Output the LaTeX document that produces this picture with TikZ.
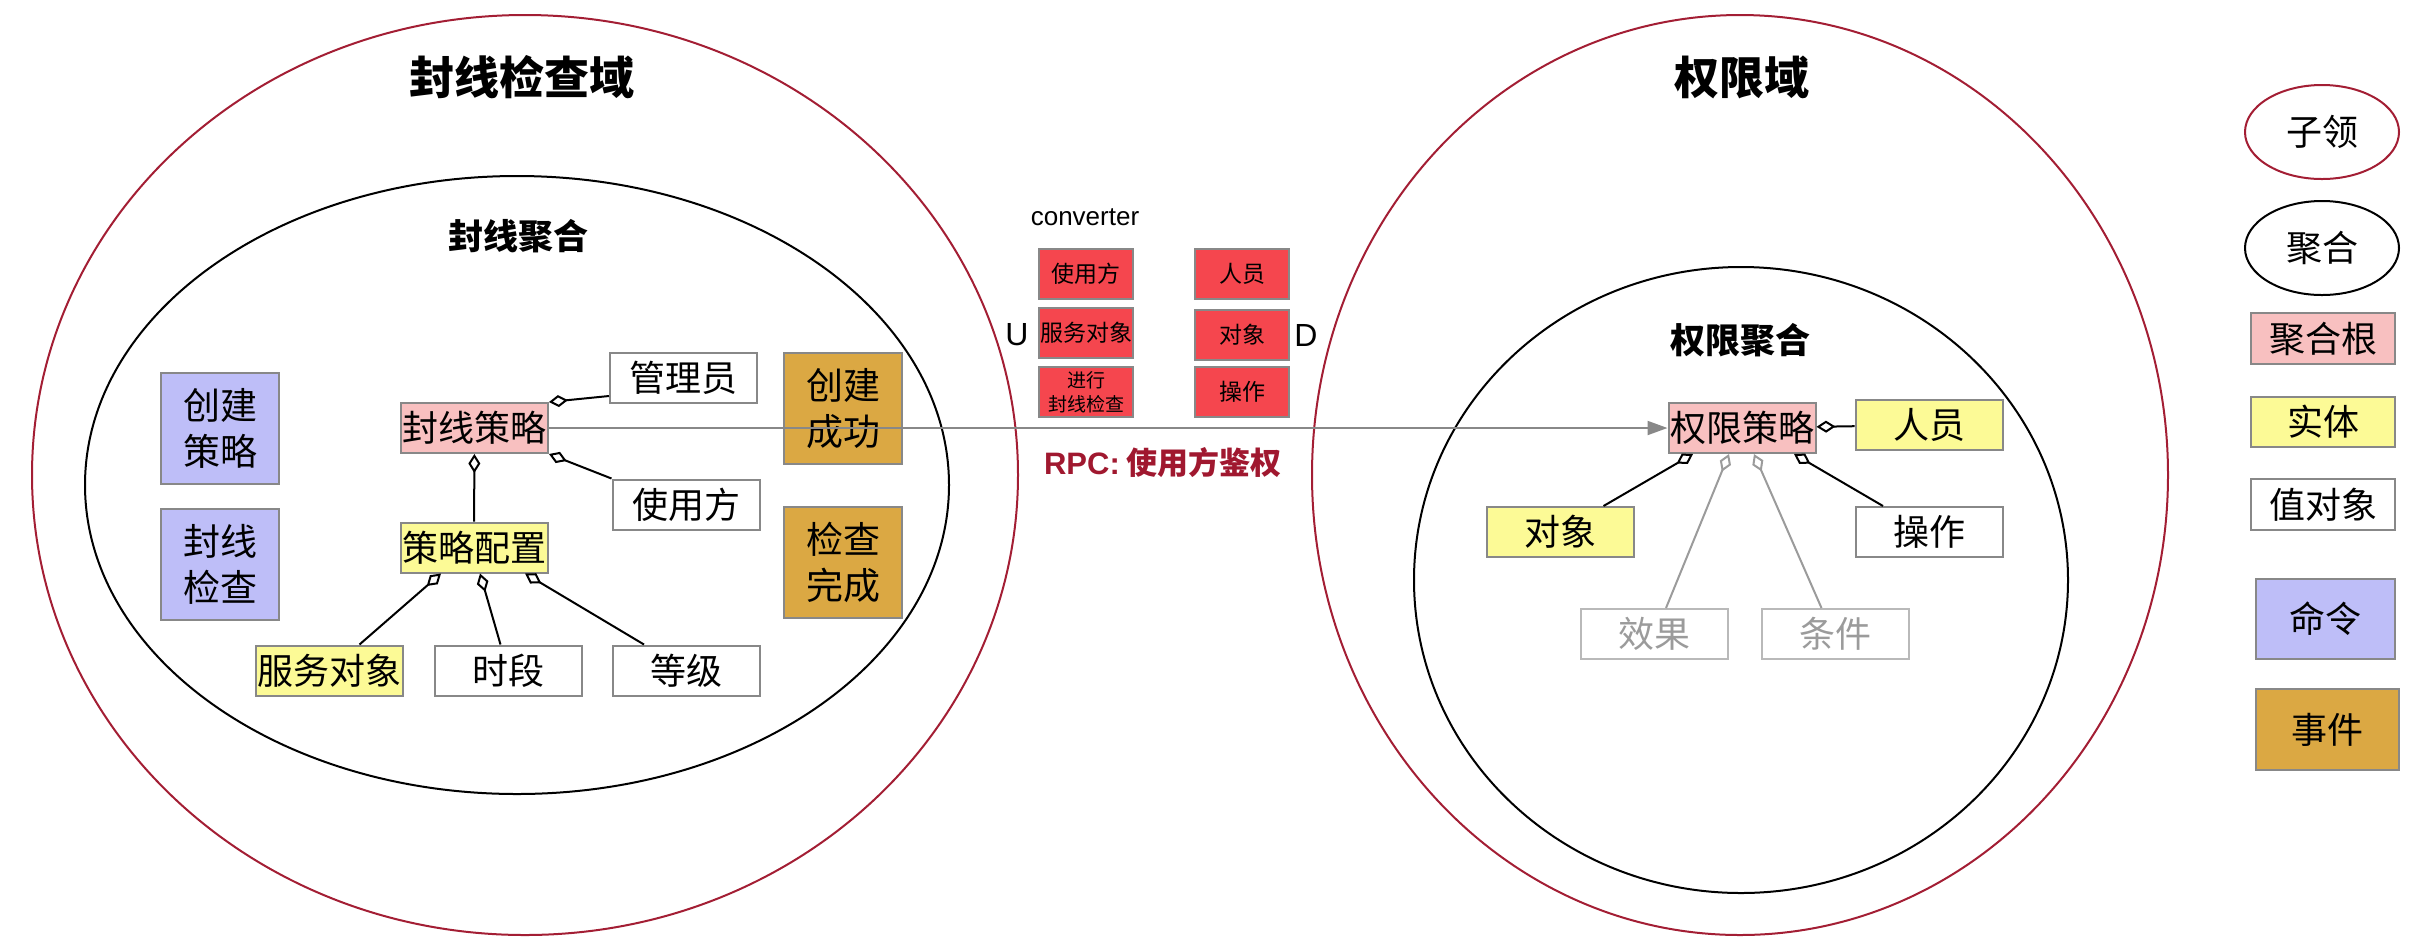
\documentclass[tikz,border=0pt]{standalone}
\usepackage{fontspec}
\setmainfont{Noto Sans CJK SC}
\newfontfamily\latinfont{Liberation Sans}
\usetikzlibrary{arrows.meta}

\definecolor{domainred}{RGB}{163,30,52}
\definecolor{rootpink}{RGB}{248,192,192}
\definecolor{entyellow}{RGB}{252,250,150}
\definecolor{cmdblue}{RGB}{190,190,248}
\definecolor{evttan}{RGB}{219,168,67}
\definecolor{convred}{RGB}{245,70,78}
\definecolor{boxgray}{RGB}{136,136,136}
\definecolor{fadegray}{RGB}{155,155,155}
\definecolor{rpcred}{RGB}{160,24,47}

\tikzset{
  box/.style={draw=boxgray, line width=1pt, inner sep=0pt, minimum width=73.5pt, minimum height=25pt, font=\fontsize{18}{20}\selectfont},
  root/.style={box, fill=rootpink},
  entity/.style={box, fill=entyellow},
  value/.style={box, fill=white},
  faded/.style={box, draw=fadegray!70, text=fadegray},
  command/.style={box, fill=cmdblue, minimum width=59pt, minimum height=55.5pt, align=center, font=\fontsize{18.5}{23}\selectfont},
  event/.style={command, fill=evttan},
  conv/.style={box, fill=convred, minimum width=47pt, minimum height=25pt, font=\fontsize{11.5}{12}\selectfont},
  agg/.style={-{Diamond[open, length=9.5pt, width=6pt]}, line width=1pt},
  domainline/.style={draw=domainred, line width=1pt},
  aggline/.style={draw=black, line width=1pt},
  legendtext/.style={font=\fontsize{18}{20}\selectfont},
}

\begin{document}
\begin{tikzpicture}[x=0.5pt, y=-0.5pt]
\useasboundingbox (0,0) rectangle (2432,950);

% domains and aggregates
\draw[domainline] (525,475) ellipse [x radius=246.5pt, y radius=230pt];
\draw[domainline] (1740,475) ellipse [x radius=214pt, y radius=230pt];
\draw[aggline] (517,485) ellipse [x radius=216pt, y radius=154.5pt];
\draw[aggline] (1741,580) ellipse [x radius=163.5pt, y radius=156.5pt];

\node[font=\fontsize{22.5}{26}\selectfont\bfseries] (checkdomain) at (522,77) {封线检查域};
\node[font=\fontsize{22.5}{26}\selectfont\bfseries] (permdomain) at (1742,77) {权限域};
\node[font=\fontsize{17.5}{20}\selectfont\bfseries] (sealagg) at (518,236) {封线聚合};
\node[font=\fontsize{17.5}{20}\selectfont\bfseries] (permagg) at (1740,340) {权限聚合};

% seal line aggregate
\node[root] (sealpolicy) at (474.5,428) {封线策略};
\node[value] (admin) at (683.5,378) {管理员};
\node[value] (user) at (686,504.5) {使用方};
\node[entity] (config) at (474,547.5) {策略配置};
\node[entity] (svcobj) at (329.5,670.5) {服务对象};
\node[value] (period) at (508.5,670.5) {时段};
\node[value] (level) at (686,670.5) {等级};
\node[command] (createcmd) at (220,428.5) {创建\\策略};
\node[command] (checkcmd) at (220,564.5) {封线\\检查};
\node[event] (created) at (843,408.5) {创建\\成功};
\node[event] (checked) at (843,562.5) {检查\\完成};

\draw[agg] ([yshift=4pt]admin.south west) -- (sealpolicy.north east);
\draw[agg] (user.north west) -- (sealpolicy.south east);
\draw[agg] (config) -- (sealpolicy);
\draw[agg] ([xshift=15pt]svcobj.north) -- ([xshift=-16.5pt]config.south);
\draw[agg] ([xshift=-4pt]period.north) -- ([xshift=3pt]config.south);
\draw[agg] ([xshift=-21pt]level.north) -- ([xshift=25.5pt]config.south);

% converter
\node[font=\latinfont\fontsize{13}{15}\selectfont] (convlabel) at (1085,217) {converter};
\node[conv] (cuser) at (1086,274) {使用方};
\node[conv] (csvcobj) at (1086,333) {服务对象};
\node[conv, align=center, font=\fontsize{9.5}{12}\selectfont] (ccheck) at (1086,392) {进行\\封线检查};
\node[conv] (cperson) at (1242,274) {人员};
\node[conv] (cobject) at (1242,335) {对象};
\node[conv] (coperation) at (1242,392) {操作};
\node[font=\latinfont\fontsize{16}{18}\selectfont] (upstream) at (1017,335) {U};
\node[font=\latinfont\fontsize{16}{18}\selectfont] (downstream) at (1306,335) {D};

% permission aggregate
\node[root] (permpolicy) at (1742,428) {权限策略};
\node[entity] (person) at (1929,425) {人员};
\node[entity] (object) at (1560.5,532) {对象};
\node[value] (operation) at (1929,532) {操作};
\node[faded] (effect) at (1654,634) {效果};
\node[faded] (condition) at (1835.5,634) {条件};

\draw[agg] (person) -- (permpolicy);
\draw[agg] ([xshift=21.5pt]object.north) -- ([xshift=-24.5pt]permpolicy.south);
\draw[agg] ([xshift=-23pt]operation.north) -- ([xshift=26pt]permpolicy.south);
\draw[agg, draw=fadegray] ([xshift=6pt]effect.north) -- ([xshift=-6.5pt]permpolicy.south);
\draw[agg, draw=fadegray] ([xshift=-7pt]condition.north) -- ([xshift=6pt]permpolicy.south);

% rpc
\draw[draw=boxgray, line width=1pt, -{Triangle[length=10pt, width=7pt, fill=boxgray]}] (sealpolicy) -- (permpolicy);
\node[text=rpcred, font=\fontsize{15.5}{18}\selectfont\bfseries] (rpclabel) at (1163,463) {{\latinfont RPC:} 使用方鉴权};

% legend
\draw[domainline] (2322,132) ellipse [x radius=38.5pt, y radius=23.5pt];
\node[legendtext] (legdomain) at (2322,132) {子领};
\draw[aggline] (2322,248) ellipse [x radius=38.5pt, y radius=23.5pt];
\node[legendtext] (legagg) at (2322,248) {聚合};
\node[root, minimum width=72pt, minimum height=25.5pt] (legroot) at (2323,338.5) {聚合根};
\node[entity, minimum width=72pt, minimum height=25pt] (legentity) at (2323,422) {实体};
\node[value, minimum width=72pt, minimum height=25.5pt] (legvalue) at (2323,504.5) {值对象};
\node[command, minimum width=69.5pt, minimum height=40pt, font=\fontsize{18}{20}\selectfont] (legcmd) at (2325.5,619) {命令};
\node[event, minimum width=71.5pt, minimum height=40.5pt, font=\fontsize{18}{20}\selectfont] (legevent) at (2327.5,729.5) {事件};
\end{tikzpicture}
\end{document}
